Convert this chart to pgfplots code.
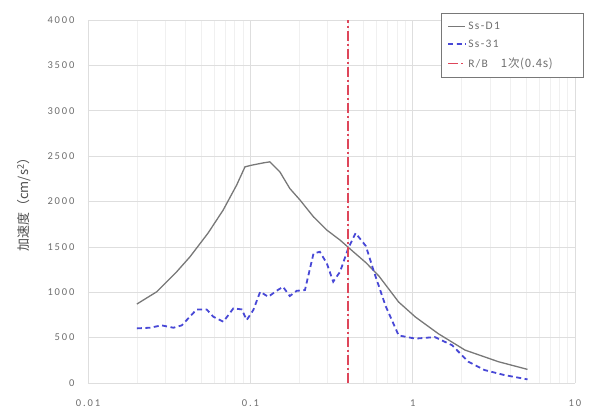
\documentclass[border=0pt]{standalone}
\usepackage{pgfplots}
\pgfplotsset{compat=1.18}
\usepackage{fontspec}
\setmainfont{Carlito}
\newfontfamily\cjk{Noto Sans CJK JP}
\newfontfamily\cjkleg[LetterSpace=6]{Noto Sans CJK JP}
\newfontfamily\tickfont[LetterSpace=18]{Carlito}
\newfontfamily\legfont[LetterSpace=12]{Carlito}
\definecolor{cgray}{RGB}{120,120,120}
\definecolor{cblue}{RGB}{72,72,214}
\definecolor{cred}{RGB}{222,70,90}
\definecolor{cgrid}{RGB}{222,222,222}
\definecolor{cminor}{RGB}{240,240,240}
\definecolor{ctext}{RGB}{110,110,110}
\begin{document}
\begin{tikzpicture}
\begin{axis}[
  scale only axis, width=487pt, height=363pt,
  xmode=log, xmin=0.01, xmax=10, ymin=0, ymax=4000,
  xtick={0.01,0.1,1,10}, xticklabels={0.01,0.1,1,10},
  ytick={0,500,...,4000},
  /pgf/number format/1000 sep={},
  /pgf/number format/assume math mode=true,
  axis x line*=bottom, axis y line*=left,
  axis line style={cgrid, line width=0.8pt},
  major tick length=0pt, minor tick length=0pt,
  xmajorgrids, xminorgrids, ymajorgrids,
  grid style={cgrid, line width=0.7pt},
  minor grid style={cminor, line width=0.6pt},
  tick label style={font=\tickfont\fontsize{10.5}{11}\selectfont, text=ctext},
  xticklabel style={yshift=-13pt},
  yticklabel style={xshift=-10pt},
  ylabel={\cjk 加速度（cm/s\textsuperscript{2}）},
  ylabel style={font=\fontsize{13}{15}\selectfont, text=ctext!70!black, yshift=10pt},
  legend style={at={(rel axis cs:1,1)}, anchor=north east, xshift=8pt, yshift=7pt,
    draw=cgray, font=\legfont\fontsize{11.5}{13}\selectfont, text=ctext,
    row sep=5pt, inner xsep=6pt, inner ysep=6.5pt},
  legend cell align=left,
]
\addplot[cgray, line width=1.3pt] coordinates {
(0.02,870) (0.0265,1005) (0.0352,1226) (0.0425,1391) (0.0549,1652) (0.068,1905)
(0.0823,2180) (0.0927,2382) (0.1018,2400) (0.1206,2426) (0.132,2437) (0.152,2327)
(0.175,2144) (0.2026,2015) (0.245,1831) (0.296,1685) (0.357,1575) (0.41,1480)
(0.516,1325) (0.62,1178) (0.82,892) (1.04,727) (1.44,543) (2.1,363) (3.37,235) (5.1,150)
};
\addplot[cblue, line width=1.8pt, dash pattern=on 5pt off 3.5pt] coordinates {
(0.02,602) (0.024,609) (0.0284,635) (0.0336,609) (0.0378,635) (0.0467,811)
(0.0538,811) (0.0592,730) (0.0682,675) (0.0786,822) (0.0885,811) (0.095,694)
(0.1043,804) (0.115,1005) (0.129,950) (0.145,1016) (0.159,1060) (0.175,958)
(0.193,1016) (0.217,1024) (0.245,1427) (0.268,1446) (0.296,1318) (0.324,1116)
(0.357,1226) (0.401,1483) (0.445,1652) (0.515,1509) (0.576,1233) (0.68,852)
(0.82,524) (1.04,489) (1.37,506) (1.75,416) (2.2,235) (2.77,143) (3.66,88) (5.1,40)
};
\addplot[cred, line width=1.3pt, dash pattern=on 10pt off 3pt on 2pt off 3pt] coordinates {(0.4,0) (0.4,4000)};
\legend{}
\addlegendimage{legend image code/.code={\path (0cm,0cm); \draw[cgray, line width=1.3pt] (0.65cm,0cm) -- (2.05cm,0cm);}}
\addlegendentry{Ss-D1}
\addlegendimage{legend image code/.code={\path (0cm,0cm); \draw[cblue, line width=1.8pt, dash pattern=on 5pt off 3.5pt] (0.65cm,0cm) -- (2.05cm,0cm);}}
\addlegendentry{Ss-31}
\addlegendimage{legend image code/.code={\path (0cm,0cm); \draw[cred, line width=1.5pt, dash pattern=on 10pt off 3pt on 2.5pt off 3pt] (0.65cm,0cm) -- (2.05cm,0cm);}}
\addlegendentry{R/B\hspace{13pt}{\cjkleg 1次(0.4s)}\hspace*{22pt}}
\coordinate (ll) at (rel axis cs:0,0);
\coordinate (ur) at (rel axis cs:1,1);
\end{axis}
\useasboundingbox ([shift={(-88pt,-29pt)}]ll) rectangle ([shift={(15pt,20pt)}]ur);
\end{tikzpicture}
\end{document}
